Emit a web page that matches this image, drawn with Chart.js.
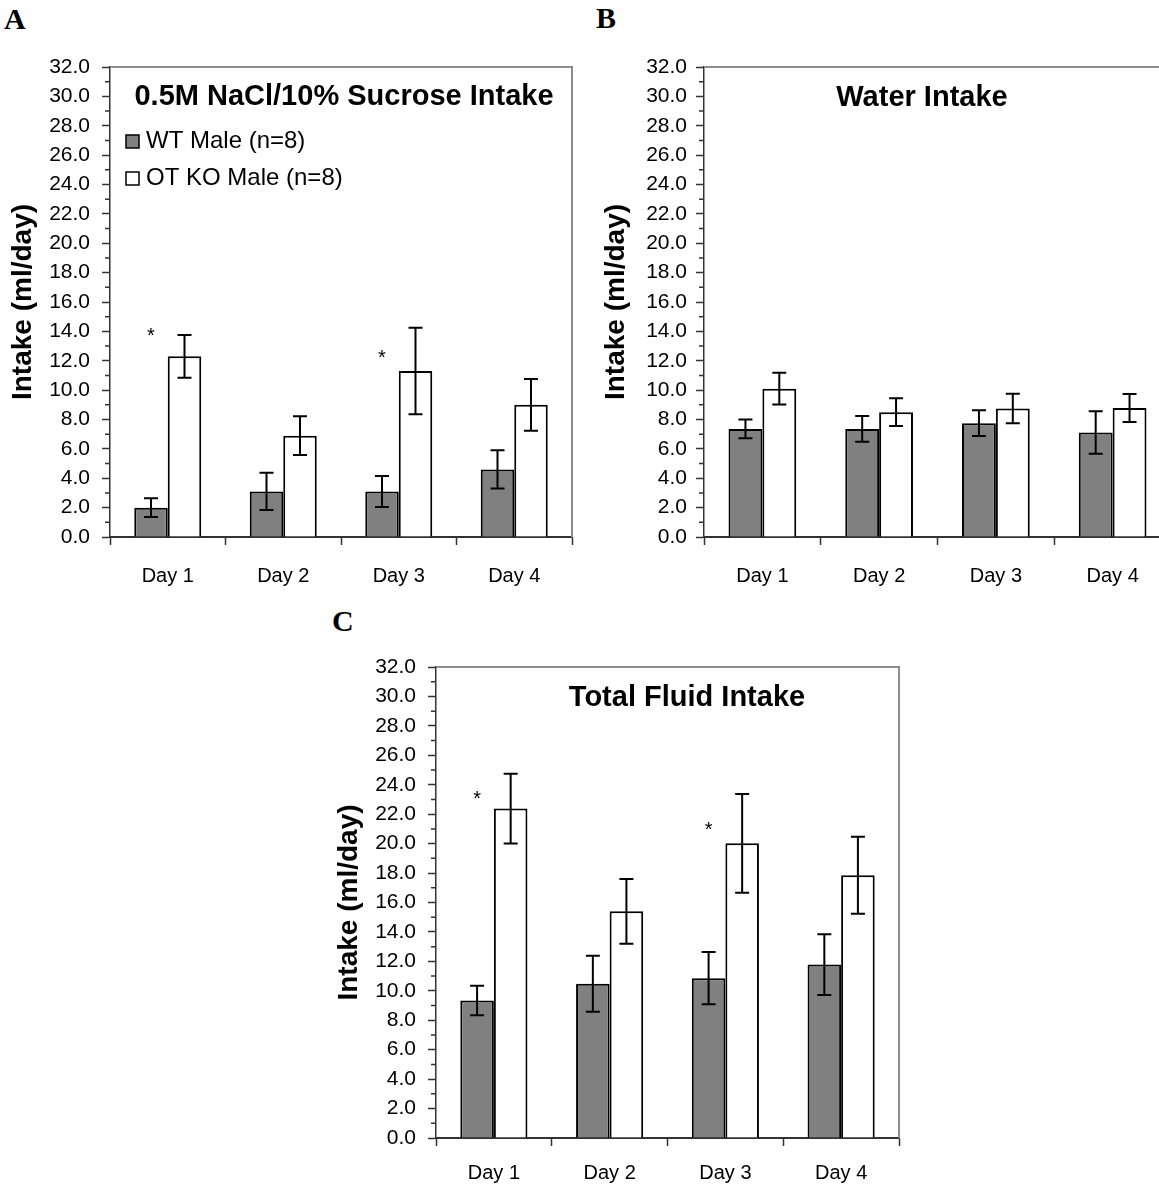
<!DOCTYPE html>
<html>
<head>
<meta charset="utf-8">
<script src="https://cdn.jsdelivr.net/npm/chart.js@4.4.1/dist/chart.umd.min.js"></script>
<style>
  html, body { margin: 0; padding: 0; background: #fff; width: 1159px; height: 1186px; overflow: hidden; position: relative; }
  canvas.panel { position: absolute; }
  .letter { position: absolute; font: bold 30px "Liberation Serif", "Times New Roman", serif; line-height: 30px; color: #000; }
</style>
</head>
<body>
<div class="letter" style="left:4px;top:4px">A</div>
<div class="letter" style="left:596px;top:3px">B</div>
<div class="letter" style="left:332px;top:606px">C</div>

<canvas id="chartA" class="panel" style="left:0px;top:0px" width="590" height="600"></canvas>
<canvas id="chartB" class="panel" style="left:590px;top:0px" width="600" height="600"></canvas>
<canvas id="chartC" class="panel" style="left:320px;top:600px" width="600" height="586"></canvas>

<script>
// ---- data (ml/day, mean and SEM) ----
const days = ['Day 1', 'Day 2', 'Day 3', 'Day 4'];
const groupNames = ['WT Male (n=8)', 'OT KO Male (n=8)'];

// 0.5M NaCl / 10% sucrose
const sucroseWT = [2.0, 3.1, 3.1, 4.6];
const sucroseWTErr = [0.64, 1.27, 1.05, 1.3];
const sucroseKO = [12.3, 6.9, 11.3, 9.0];
const sucroseKOErr = [1.45, 1.32, 2.95, 1.76];
const sucroseSig = [14.1, null, 12.6, null];

// water
const waterWT = [7.36, 7.36, 7.75, 7.11];
const waterWTErr = [0.64, 0.88, 0.88, 1.45];
const waterKO = [10.1, 8.5, 8.75, 8.78];
const waterKOErr = [1.08, 0.95, 1.0, 0.95];
const waterSig = [null, null, null, null];

// total fluid
const totalWT = [9.34, 10.48, 10.86, 11.78];
const totalWTErr = [1.0, 1.9, 1.77, 2.07];
const totalKO = [22.38, 15.4, 20.02, 17.85];
const totalKOErr = [2.37, 2.2, 3.35, 2.62];
const totalSig = [23.4, null, 21.3, null];

const yMin = 0, yMax = 32, yStep = 2;

// ---- styling ----
const FONT = '"Liberation Sans", Arial, Helvetica, sans-serif';
const AXIS = '#333333';
const FRAME = '#8c8c8c';
Chart.defaults.font.family = FONT;
Chart.defaults.color = '#000';

const decor = {
  id: 'decor',
  beforeDatasetsDraw(chart, args, o) {
    const { ctx, chartArea: a } = chart;
    const ys = chart.scales.y;
    ctx.save();
    // plot frame (top and right)
    ctx.strokeStyle = FRAME;
    ctx.lineWidth = 2;
    ctx.beginPath();
    ctx.moveTo(a.left, a.top);
    ctx.lineTo(a.right, a.top);
    ctx.lineTo(a.right, a.bottom);
    ctx.stroke();
    // minor ticks on the value axis
    ctx.strokeStyle = AXIS;
    ctx.lineWidth = 1.5;
    ctx.beginPath();
    for (let v = yMin + 1; v < yMax; v += 2) {
      const py = ys.getPixelForValue(v);
      ctx.moveTo(a.left - 5, py);
      ctx.lineTo(a.left, py);
    }
    ctx.stroke();
    ctx.restore();
  },
  afterDatasetsDraw(chart, args, o) {
    const { ctx } = chart;
    const ys = chart.scales.y;
    ctx.save();
    // error bars
    ctx.strokeStyle = '#000';
    ctx.lineWidth = 2;
    chart.data.datasets.forEach((ds, i) => {
      const meta = chart.getDatasetMeta(i);
      meta.data.forEach((el, j) => {
        const v = ds.data[j], e = ds.errors[j];
        const yHi = ys.getPixelForValue(v + e);
        const yLo = ys.getPixelForValue(v - e);
        ctx.beginPath();
        ctx.moveTo(el.x, yHi); ctx.lineTo(el.x, yLo);
        ctx.moveTo(el.x - 7, yHi); ctx.lineTo(el.x + 7, yHi);
        ctx.moveTo(el.x - 7, yLo); ctx.lineTo(el.x + 7, yLo);
        ctx.stroke();
      });
    });
    // significance marks above the WT bars
    const wt = chart.getDatasetMeta(0);
    ctx.fillStyle = '#000';
    ctx.font = '20px ' + FONT;
    ctx.textAlign = 'center';
    ctx.textBaseline = 'alphabetic';
    (o.marks || []).forEach((m, j) => {
      if (m === null) return;
      const x = wt.data[j].x;
      const y = ys.getPixelForValue(m);
      ctx.fillText('*', x, y + 0.59 * 20);
    });
    ctx.restore();
  },
  afterDraw(chart, args, o) {
    const { ctx, chartArea: a } = chart;
    ctx.save();
    ctx.fillStyle = '#000';
    ctx.font = 'bold 29px ' + FONT;
    ctx.textAlign = 'center';
    ctx.textBaseline = 'middle';
    ctx.fillText(o.title, a.left + o.titleDX, a.top + o.titleDY);
    if (o.legend) {
      ctx.font = '24px ' + FONT;
      ctx.textAlign = 'left';
      chart.data.datasets.forEach((ds, i) => {
        const cy = a.top + 74.5 + i * 37;
        const bx = a.left + 16;
        ctx.fillStyle = ds.backgroundColor;
        ctx.fillRect(bx, cy - 6.5, 13, 13);
        ctx.strokeStyle = '#000';
        ctx.lineWidth = 1.5;
        ctx.strokeRect(bx, cy - 6.5, 13, 13);
        ctx.fillStyle = '#000';
        ctx.fillText(ds.label, bx + 20, cy);
      });
    }
    ctx.restore();
  }
};

function makePanel(id, wt, wtErr, ko, koErr, marks, cfg) {
  return new Chart(document.getElementById(id), {
    type: 'bar',
    data: {
      labels: days,
      datasets: [
        { label: groupNames[0], data: wt, errors: wtErr, backgroundColor: '#808080', borderColor: '#000', borderWidth: 2 },
        { label: groupNames[1], data: ko, errors: koErr, backgroundColor: '#ffffff', borderColor: '#000', borderWidth: 2 }
      ]
    },
    options: {
      responsive: false,
      animation: false,
      datasets: { bar: { categoryPercentage: 0.58, barPercentage: 1.0 } },
      layout: { padding: { top: cfg.padTop, right: cfg.padRight, bottom: cfg.padBottom, left: 0 } },
      plugins: {
        legend: { display: false },
        tooltip: { enabled: false },
        decor: { title: cfg.title, titleDX: cfg.titleDX, titleDY: cfg.titleDY, legend: cfg.legend, marks: marks }
      },
      scales: {
        x: {
          grid: { display: true, drawOnChartArea: false, drawTicks: true, tickLength: 8, tickColor: AXIS, tickWidth: 1.5, offset: true },
          border: { display: true, color: AXIS, width: 2 },
          ticks: { font: { size: 20 }, color: '#000', padding: cfg.xPad, maxRotation: 0 },
          afterFit: s => { s.height = cfg.xHeight; }
        },
        y: {
          min: yMin, max: yMax,
          grid: { display: true, drawOnChartArea: false, drawTicks: true, tickLength: 8, tickColor: AXIS, tickWidth: 1.5 },
          border: { display: true, color: AXIS, width: 1.5 },
          ticks: { stepSize: yStep, font: { size: 21 }, color: '#000', padding: cfg.tickPad, callback: v => Number(v).toFixed(1) },
          title: { display: true, text: 'Intake (ml/day)', font: { size: 28, weight: 'bold' }, color: '#000', padding: { top: cfg.titlePad, bottom: 0 } },
          afterFit: s => { s.width = cfg.axisWidth; }
        }
      }
    },
    plugins: [decor]
  });
}

makePanel('chartA', sucroseWT, sucroseWTErr, sucroseKO, sucroseKOErr, sucroseSig, {
  title: '0.5M NaCl/10% Sucrose Intake', titleDX: 234, titleDY: 30, legend: true,
  padTop: 67, padRight: 18, padBottom: 3, xHeight: 60, axisWidth: 110, tickPad: 12, titlePad: 6, xPad: 19
});
makePanel('chartB', waterWT, waterWTErr, waterKO, waterKOErr, waterSig, {
  title: 'Water Intake', titleDX: 218, titleDY: 31, legend: false,
  padTop: 67, padRight: 19, padBottom: 3, xHeight: 60, axisWidth: 114, tickPad: 9, titlePad: 9, xPad: 19
});
makePanel('chartC', totalWT, totalWTErr, totalKO, totalKOErr, totalSig, {
  title: 'Total Fluid Intake', titleDX: 251, titleDY: 31, legend: false,
  padTop: 67, padRight: 21, padBottom: 0, xHeight: 48, axisWidth: 116, tickPad: 12, titlePad: 12, xPad: 15
});
</script>
</body>
</html>
